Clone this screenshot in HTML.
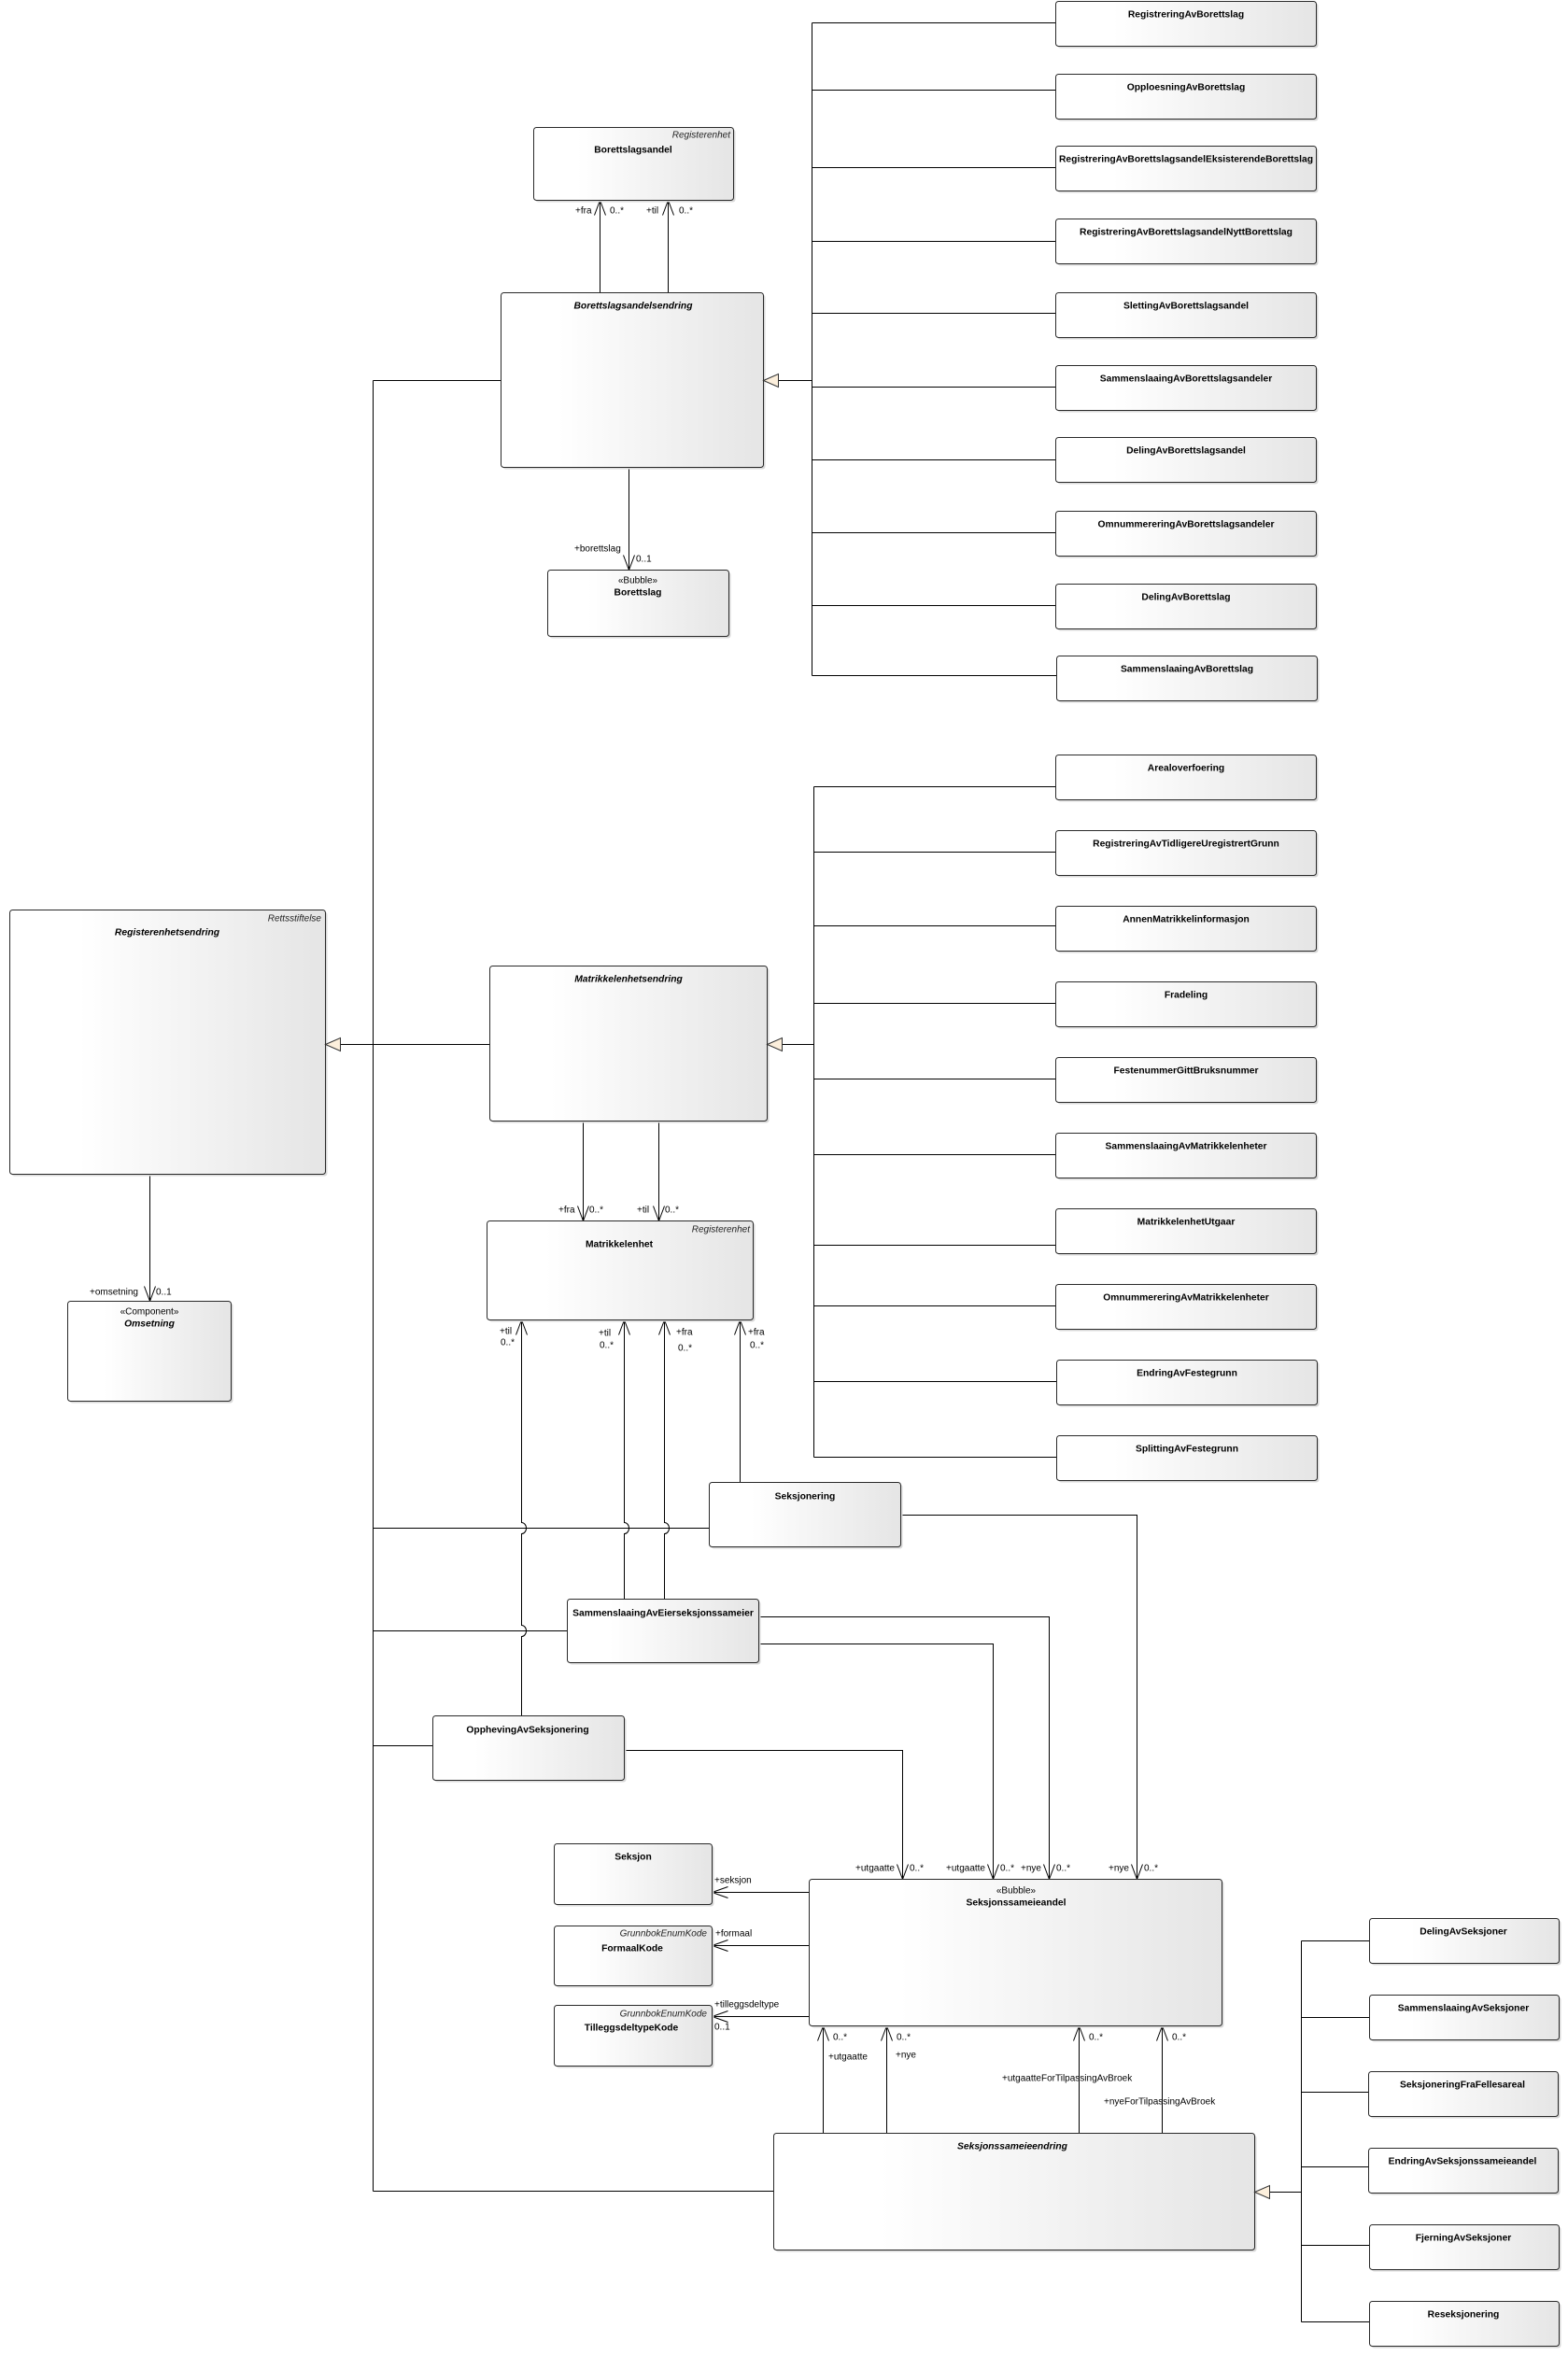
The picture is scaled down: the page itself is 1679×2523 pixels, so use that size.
<!DOCTYPE html>
<html>
<head>
<meta charset="utf-8">
<style>
html,body{margin:0;padding:0;background:#fff;}
svg{display:block;}
.n{font-family:"Liberation Sans",Arial,sans-serif;font-weight:bold;font-size:10.3px;text-anchor:middle;dominant-baseline:central;fill:#000;}
.ni{font-family:"Liberation Sans",Arial,sans-serif;font-weight:bold;font-style:italic;font-size:10.3px;text-anchor:middle;dominant-baseline:central;fill:#000;}
.t{font-family:"Liberation Sans",Arial,sans-serif;font-style:italic;font-size:10px;text-anchor:end;dominant-baseline:central;fill:#222;}
.s{font-family:"Liberation Sans",Arial,sans-serif;font-size:10px;text-anchor:middle;dominant-baseline:central;fill:#000;}
.l{font-family:"Liberation Sans",Arial,sans-serif;font-size:10px;dominant-baseline:central;fill:#000;}
.le{font-family:"Liberation Sans",Arial,sans-serif;font-size:10px;text-anchor:end;dominant-baseline:central;fill:#000;}
.ln{fill:none;stroke:#000;stroke-width:1;}
.box{fill:url(#g);stroke:#2a2a2a;stroke-width:1;}
.sh{fill:#d9d9d9;}
.tri{fill:#fcefdc;stroke:#333;stroke-width:1;}
</style>
</head>
<body>
<svg width="1679" height="2523" viewBox="0 0 1679 2523" xmlns="http://www.w3.org/2000/svg">
<defs>
<linearGradient id="g" x1="0" y1="0" x2="1" y2="0">
<stop offset="0" stop-color="#ffffff"/>
<stop offset="0.22" stop-color="#ffffff"/>
<stop offset="1" stop-color="#e5e5e5"/>
</linearGradient>
</defs>

<g transform="translate(0.5,0.5)">
<!-- ===== LINES ===== -->
<path class="ln" d="M869 24 V723"/>
<path class="ln" d="M869 24 H1130 M869 96 H1130 M869 179 H1130 M869 258 H1130 M869 335 H1130 M869 414 H1130 M869 492 H1130 M869 570 H1130 M869 648 H1130 M869 723 H1131"/>
<path class="ln" d="M833 407 H869"/>
<path class="ln" d="M642 214 V313 M715 214 V313"/>
<path class="ln" d="M636 230 L642 214 L648 230 M709 230 L715 214 L721 230"/>
<path class="ln" d="M673 500 V610"/>
<path class="ln" d="M667 594 L673 610 L679 594"/>

<path class="ln" d="M399 407 V2346"/>
<path class="ln" d="M399 407 H536"/>
<path class="ln" d="M364 1118 H524"/>
<path class="ln" d="M160 1257 V1393"/>
<path class="ln" d="M154 1377 L160 1393 L166 1377"/>
<path class="ln" d="M624 1200 V1307 M705 1200 V1307"/>
<path class="ln" d="M618 1291 L624 1307 L630 1291 M699 1291 L705 1307 L711 1291"/>
<path class="ln" d="M837 1118 H871"/>
<path class="ln" d="M871 842 V1560"/>
<path class="ln" d="M871 842 H1130 M871 912 H1130 M871 991 H1130 M871 1074 H1130 M871 1155 H1130 M871 1236 H1130 M871 1333 H1130 M871 1398 H1130 M871 1479 H1131 M871 1560 H1131"/>

<path class="ln" d="M399 1636 H759"/>
<path class="ln" d="M399 1746 H607"/>
<path class="ln" d="M399 1869 H463"/>
<path class="ln" d="M558 1413 V1630 A5 6 0 0 1 558 1642 V1740 A5 6 0 0 1 558 1752 V1837"/>
<path class="ln" d="M668 1413 V1630 A5 6 0 0 1 668 1642 V1712"/>
<path class="ln" d="M711 1413 V1630 A5 6 0 0 1 711 1642 V1712"/>
<path class="ln" d="M792 1413 V1587"/>
<path class="ln" d="M552 1429 L558 1413 L564 1429 M662 1429 L668 1413 L674 1429 M705 1429 L711 1413 L717 1429 M786 1429 L792 1413 L798 1429"/>

<path class="ln" d="M964 1622 H1217 V2012"/>
<path class="ln" d="M812 1731 H1123 V2012"/>
<path class="ln" d="M812 1760 H1063 V2012"/>
<path class="ln" d="M668 1874 H966 V2012"/>
<path class="ln" d="M1211 1996 L1217 2012 L1223 1996 M1117 1996 L1123 2012 L1129 1996 M1057 1996 L1063 2012 L1069 1996 M960 1996 L966 2012 L972 1996"/>

<path class="ln" d="M866 2026 H762 M866 2083 H762 M866 2159 H762"/>
<path class="ln" d="M779 2020 L762 2026 L779 2032 M779 2077 L762 2083 L779 2089 M779 2153 L762 2159 L779 2165"/>

<path class="ln" d="M881 2169 V2284 M949 2169 V2284 M1155 2169 V2284 M1244 2169 V2284"/>
<path class="ln" d="M875 2185 L881 2169 L887 2185 M943 2185 L949 2169 L955 2185 M1149 2185 L1155 2169 L1161 2185 M1238 2185 L1244 2169 L1250 2185"/>
<path class="ln" d="M399 2346 H828"/>

<path class="ln" d="M1359 2347 H1393"/>
<path class="ln" d="M1393 2078 V2486"/>
<path class="ln" d="M1393 2078 H1466 M1393 2160 H1466 M1393 2240 H1465 M1393 2320 H1465 M1393 2404 H1466 M1393 2486 H1466"/>

<!-- ===== BOXES ===== -->
<g>
<rect class="sh" x="1132" y="3" width="279" height="48" rx="3"/><rect class="box" x="1130" y="1" width="279" height="48" rx="3"/>
<rect class="sh" x="1132" y="81" width="279" height="48" rx="3"/><rect class="box" x="1130" y="79" width="279" height="48" rx="3"/>
<rect class="sh" x="1132" y="158" width="279" height="48" rx="3"/><rect class="box" x="1130" y="156" width="279" height="48" rx="3"/>
<rect class="sh" x="1132" y="236" width="279" height="48" rx="3"/><rect class="box" x="1130" y="234" width="279" height="48" rx="3"/>
<rect class="sh" x="1132" y="315" width="279" height="48" rx="3"/><rect class="box" x="1130" y="313" width="279" height="48" rx="3"/>
<rect class="sh" x="1132" y="393" width="279" height="48" rx="3"/><rect class="box" x="1130" y="391" width="279" height="48" rx="3"/>
<rect class="sh" x="1132" y="470" width="279" height="48" rx="3"/><rect class="box" x="1130" y="468" width="279" height="48" rx="3"/>
<rect class="sh" x="1132" y="549" width="279" height="48" rx="3"/><rect class="box" x="1130" y="547" width="279" height="48" rx="3"/>
<rect class="sh" x="1132" y="627" width="279" height="48" rx="3"/><rect class="box" x="1130" y="625" width="279" height="48" rx="3"/>
<rect class="sh" x="1133" y="704" width="279" height="48" rx="3"/><rect class="box" x="1131" y="702" width="279" height="48" rx="3"/>
</g>
<rect class="sh" x="573" y="138" width="214" height="78" rx="3"/><rect class="box" x="571" y="136" width="214" height="78" rx="3"/>
<rect class="sh" x="538" y="315" width="281" height="187" rx="3"/><rect class="box" x="536" y="313" width="281" height="187" rx="3"/>
<rect class="sh" x="588" y="612" width="194" height="71" rx="3"/><rect class="box" x="586" y="610" width="194" height="71" rx="3"/>
<rect class="sh" x="12" y="976" width="338" height="283" rx="3"/><rect class="box" x="10" y="974" width="338" height="283" rx="3"/>
<rect class="sh" x="74" y="1395" width="175" height="107" rx="3"/><rect class="box" x="72" y="1393" width="175" height="107" rx="3"/>
<rect class="sh" x="526" y="1036" width="297" height="166" rx="3"/><rect class="box" x="524" y="1034" width="297" height="166" rx="3"/>
<rect class="sh" x="523" y="1309" width="285" height="106" rx="3"/><rect class="box" x="521" y="1307" width="285" height="106" rx="3"/>
<g>
<rect class="sh" x="1132" y="810" width="279" height="48" rx="3"/><rect class="box" x="1130" y="808" width="279" height="48" rx="3"/>
<rect class="sh" x="1132" y="891" width="279" height="48" rx="3"/><rect class="box" x="1130" y="889" width="279" height="48" rx="3"/>
<rect class="sh" x="1132" y="972" width="279" height="48" rx="3"/><rect class="box" x="1130" y="970" width="279" height="48" rx="3"/>
<rect class="sh" x="1132" y="1053" width="279" height="48" rx="3"/><rect class="box" x="1130" y="1051" width="279" height="48" rx="3"/>
<rect class="sh" x="1132" y="1134" width="279" height="48" rx="3"/><rect class="box" x="1130" y="1132" width="279" height="48" rx="3"/>
<rect class="sh" x="1132" y="1215" width="279" height="48" rx="3"/><rect class="box" x="1130" y="1213" width="279" height="48" rx="3"/>
<rect class="sh" x="1132" y="1296" width="279" height="48" rx="3"/><rect class="box" x="1130" y="1294" width="279" height="48" rx="3"/>
<rect class="sh" x="1132" y="1377" width="279" height="48" rx="3"/><rect class="box" x="1130" y="1375" width="279" height="48" rx="3"/>
<rect class="sh" x="1133" y="1458" width="279" height="48" rx="3"/><rect class="box" x="1131" y="1456" width="279" height="48" rx="3"/>
<rect class="sh" x="1133" y="1539" width="279" height="48" rx="3"/><rect class="box" x="1131" y="1537" width="279" height="48" rx="3"/>
</g>
<rect class="sh" x="761" y="1589" width="205" height="69" rx="3"/><rect class="box" x="759" y="1587" width="205" height="69" rx="3"/>
<rect class="sh" x="609" y="1714" width="205" height="68" rx="3"/><rect class="box" x="607" y="1712" width="205" height="68" rx="3"/>
<rect class="sh" x="465" y="1839" width="205" height="69" rx="3"/><rect class="box" x="463" y="1837" width="205" height="69" rx="3"/>
<rect class="sh" x="595" y="1976" width="169" height="65" rx="3"/><rect class="box" x="593" y="1974" width="169" height="65" rx="3"/>
<rect class="sh" x="595" y="2064" width="169" height="64" rx="3"/><rect class="box" x="593" y="2062" width="169" height="64" rx="3"/>
<rect class="sh" x="595" y="2149" width="169" height="65" rx="3"/><rect class="box" x="593" y="2147" width="169" height="65" rx="3"/>
<rect class="sh" x="868" y="2014" width="442" height="157" rx="3"/><rect class="box" x="866" y="2012" width="442" height="157" rx="3"/>
<rect class="sh" x="830" y="2286" width="515" height="125" rx="3"/><rect class="box" x="828" y="2284" width="515" height="125" rx="3"/>
<g>
<rect class="sh" x="1468" y="2056" width="203" height="48" rx="3"/><rect class="box" x="1466" y="2054" width="203" height="48" rx="3"/>
<rect class="sh" x="1468" y="2138" width="203" height="48" rx="3"/><rect class="box" x="1466" y="2136" width="203" height="48" rx="3"/>
<rect class="sh" x="1467" y="2220" width="203" height="48" rx="3"/><rect class="box" x="1465" y="2218" width="203" height="48" rx="3"/>
<rect class="sh" x="1467" y="2302" width="203" height="48" rx="3"/><rect class="box" x="1465" y="2300" width="203" height="48" rx="3"/>
<rect class="sh" x="1468" y="2384" width="203" height="48" rx="3"/><rect class="box" x="1466" y="2382" width="203" height="48" rx="3"/>
<rect class="sh" x="1468" y="2466" width="203" height="48" rx="3"/><rect class="box" x="1466" y="2464" width="203" height="48" rx="3"/>
</g>

<polygon class="tri" points="817,407 833,400 833,414"/>
<polygon class="tri" points="348,1118 364,1111 364,1125"/>
<polygon class="tri" points="821,1118 837,1111 837,1125"/>
<polygon class="tri" points="1343,2347 1359,2340 1359,2354"/>
</g>

<!-- ===== TEXT ===== -->
<text class="n" x="1270" y="16">RegistreringAvBorettslag</text>
<text class="n" x="1270" y="94">OpploesningAvBorettslag</text>
<text class="n" x="1270" y="171">RegistreringAvBorettslagsandelEksisterendeBorettslag</text>
<text class="n" x="1270" y="249">RegistreringAvBorettslagsandelNyttBorettslag</text>
<text class="n" x="1270" y="328">SlettingAvBorettslagsandel</text>
<text class="n" x="1270" y="406">SammenslaaingAvBorettslagsandeler</text>
<text class="n" x="1270" y="483">DelingAvBorettslagsandel</text>
<text class="n" x="1270" y="562">OmnummereringAvBorettslagsandeler</text>
<text class="n" x="1270" y="640">DelingAvBorettslag</text>
<text class="n" x="1271" y="717">SammenslaaingAvBorettslag</text>

<text class="t" x="782" y="145">Registerenhet</text>
<text class="n" x="678" y="161">Borettslagsandel</text>
<text class="ni" x="678" y="328">Borettslagsandelsendring</text>
<text class="s" x="683" y="622">«Bubble»</text>
<text class="n" x="683" y="635">Borettslag</text>

<text class="l" x="616" y="226">+fra</text>
<text class="l" x="653" y="226">0..*</text>
<text class="l" x="692" y="226">+til</text>
<text class="l" x="727" y="226">0..*</text>
<text class="l" x="615" y="588">+borettslag</text>
<text class="l" x="681" y="599">0..1</text>

<text class="t" x="344" y="984">Rettsstiftelse</text>
<text class="ni" x="179" y="999">Registerenhetsendring</text>
<text class="s" x="160" y="1405">«Component»</text>
<text class="ni" x="160" y="1418">Omsetning</text>
<text class="l" x="96" y="1384">+omsetning</text>
<text class="l" x="167" y="1384">0..1</text>

<text class="ni" x="673" y="1049">Matrikkelenhetsendring</text>
<text class="t" x="803" y="1317">Registerenhet</text>
<text class="n" x="663" y="1333">Matrikkelenhet</text>
<text class="l" x="598" y="1296">+fra</text>
<text class="l" x="631" y="1296">0..*</text>
<text class="l" x="682" y="1296">+til</text>
<text class="l" x="712" y="1296">0..*</text>

<text class="l" x="535" y="1426">+til</text>
<text class="l" x="536" y="1438">0..*</text>
<text class="l" x="641" y="1428">+til</text>
<text class="l" x="642" y="1441">0..*</text>
<text class="l" x="724" y="1427">+fra</text>
<text class="l" x="726" y="1444">0..*</text>
<text class="l" x="801" y="1427">+fra</text>
<text class="l" x="803" y="1441">0..*</text>

<text class="n" x="1270" y="823">Arealoverfoering</text>
<text class="n" x="1270" y="904">RegistreringAvTidligereUregistrertGrunn</text>
<text class="n" x="1270" y="985">AnnenMatrikkelinformasjon</text>
<text class="n" x="1270" y="1066">Fradeling</text>
<text class="n" x="1270" y="1147">FestenummerGittBruksnummer</text>
<text class="n" x="1270" y="1228">SammenslaaingAvMatrikkelenheter</text>
<text class="n" x="1270" y="1309">MatrikkelenhetUtgaar</text>
<text class="n" x="1270" y="1390">OmnummereringAvMatrikkelenheter</text>
<text class="n" x="1271" y="1471">EndringAvFestegrunn</text>
<text class="n" x="1271" y="1552">SplittingAvFestegrunn</text>

<text class="n" x="862" y="1603">Seksjonering</text>
<text class="n" x="710" y="1728">SammenslaaingAvEierseksjonssameier</text>
<text class="n" x="565" y="1853">OpphevingAvSeksjonering</text>

<text class="n" x="678" y="1989">Seksjon</text>
<text class="t" x="757" y="2071">GrunnbokEnumKode</text>
<text class="n" x="677" y="2087">FormaalKode</text>
<text class="t" x="757" y="2157">GrunnbokEnumKode</text>
<text class="n" x="676" y="2172">TilleggsdeltypeKode</text>

<text class="s" x="1088" y="2025">«Bubble»</text>
<text class="n" x="1088" y="2038">Seksjonssameieandel</text>
<text class="ni" x="1084" y="2299">Seksjonssameieendring</text>

<text class="le" x="958" y="2001">+utgaatte</text>
<text class="l" x="974" y="2001">0..*</text>
<text class="le" x="1055" y="2001">+utgaatte</text>
<text class="l" x="1071" y="2001">0..*</text>
<text class="l" x="1093" y="2001">+nye</text>
<text class="l" x="1131" y="2001">0..*</text>
<text class="l" x="1187" y="2001">+nye</text>
<text class="l" x="1225" y="2001">0..*</text>

<text class="l" x="765" y="2014">+seksjon</text>
<text class="l" x="766" y="2071">+formaal</text>
<text class="l" x="765" y="2147">+tilleggsdeltype</text>
<text class="l" x="765" y="2171">0..1</text>

<text class="l" x="892" y="2182">0..*</text>
<text class="l" x="960" y="2182">0..*</text>
<text class="l" x="1166" y="2182">0..*</text>
<text class="l" x="1255" y="2182">0..*</text>
<text class="l" x="887" y="2203">+utgaatte</text>
<text class="l" x="959" y="2201">+nye</text>
<text class="l" x="1073" y="2226">+utgaatteForTilpassingAvBroek</text>
<text class="l" x="1182" y="2251">+nyeForTilpassingAvBroek</text>

<text class="n" x="1567" y="2069">DelingAvSeksjoner</text>
<text class="n" x="1567" y="2151">SammenslaaingAvSeksjoner</text>
<text class="n" x="1566" y="2233">SeksjoneringFraFellesareal</text>
<text class="n" x="1566" y="2315">EndringAvSeksjonssameieandel</text>
<text class="n" x="1567" y="2397">FjerningAvSeksjoner</text>
<text class="n" x="1567" y="2479">Reseksjonering</text>
</svg>
</body>
</html>
